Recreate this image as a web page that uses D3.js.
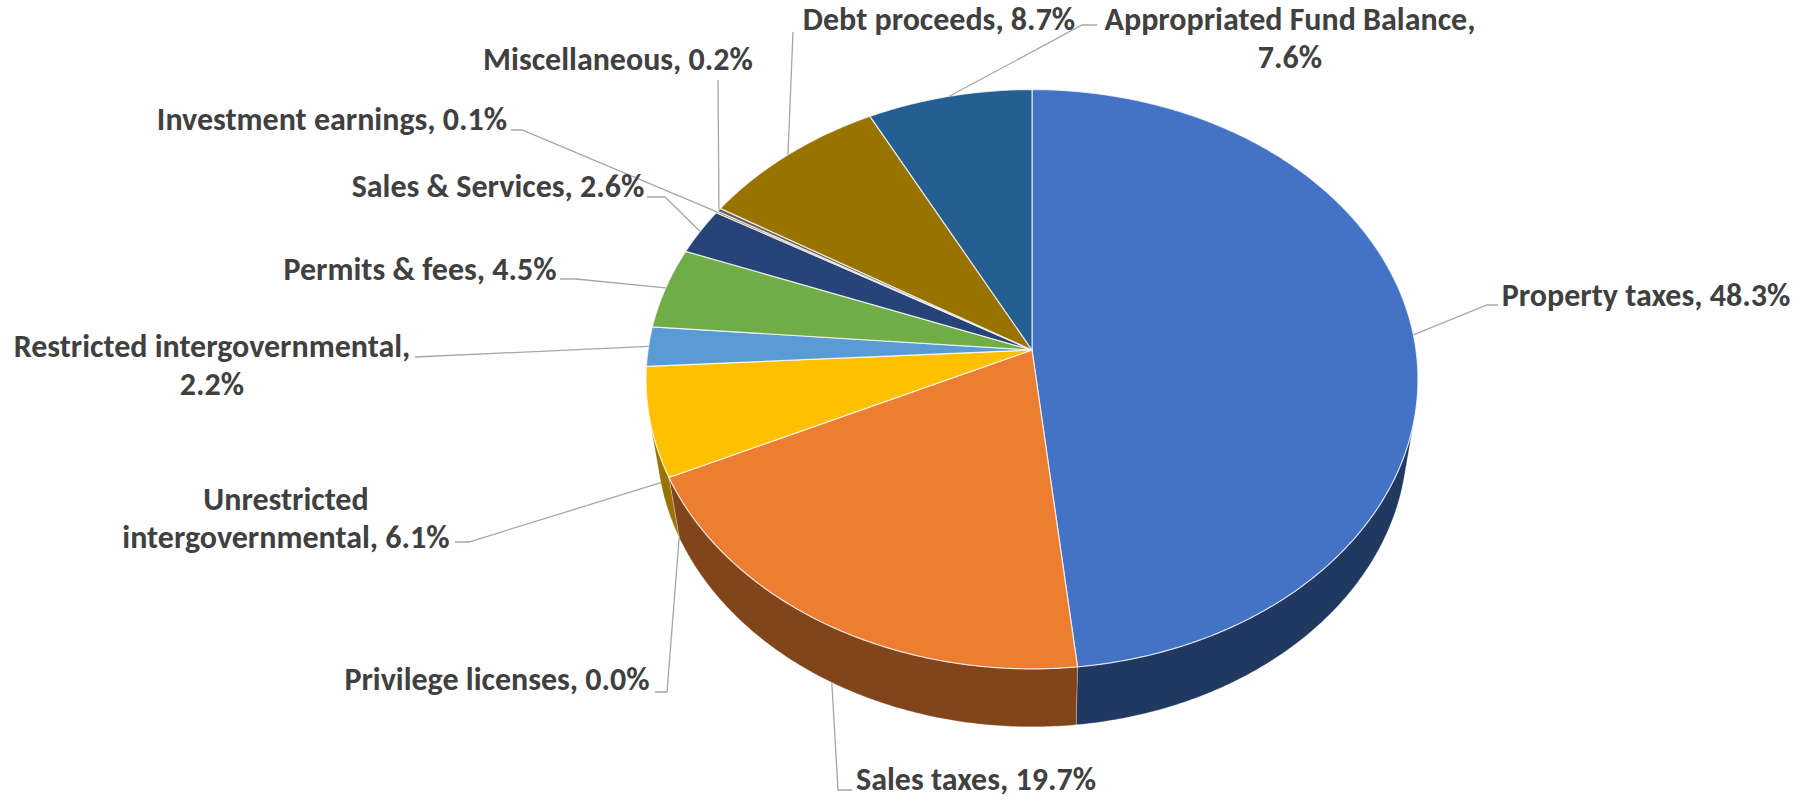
<!DOCTYPE html>
<html>
<head>
<meta charset="utf-8">
<script src="https://cdn.jsdelivr.net/npm/d3@7/dist/d3.min.js"></script>
<style>
  body { margin: 0; background: #fff; }
  svg { display: block; }
</style>
</head>
<body>
<div id="chart"></div>
<script>
// data, clockwise from 12 o'clock
const categories = ["Property taxes", "Sales taxes", "Privilege licenses", "Unrestricted intergovernmental",
  "Restricted intergovernmental", "Permits & fees", "Sales & Services", "Investment earnings",
  "Miscellaneous", "Debt proceeds", "Appropriated Fund Balance"];
const shares = [48.3, 19.7, 0.0, 6.1, 2.2, 4.5, 2.6, 0.1, 0.2, 8.7, 7.6];
const colors = ["#4472C4", "#ED7D31", "#A5A5A5", "#FFC000", "#5B9BD5", "#70AD47",
  "#264478", "#9E480E", "#636363", "#997300", "#255E91"];

// label placement (words on first line, position, leader points from label side)
const labelWrap = [0, 0, 0, 1, 2, 0, 0, 0, 0, 0, 3];
const labelPos = [
  { x: 1646, y: 306, leader: [[1498, 305], [1487, 305]] },
  { x: 976, y: 790, leader: [[852, 790], [838, 790]] },
  { x: 497, y: 690, leader: [[655, 692], [667, 692]] },
  { x: 286, y: 510, leader: [[455, 542], [469, 542]] },
  { x: 212, y: 357, leader: [[415, 357]] },
  { x: 420, y: 280, leader: [[560, 279], [576, 279]] },
  { x: 498, y: 197, leader: [[647, 197], [665, 197]] },
  { x: 332, y: 130, leader: [[511, 130], [522, 130]] },
  { x: 618, y: 70, leader: [[718, 80]] },
  { x: 939, y: 30, leader: [[793, 32]] },
  { x: 1290, y: 30, leader: [[1097, 25], [1082, 25]] }
];

const width = 1798, height = 802;
const svg = d3.select("#chart").append("svg")
  .attr("width", width)
  .attr("height", height);

// 3D view of the disc
const cx = 1032, cy = 350, K = 384;
const dist = 6.6, thick = 0.245, elev = 48.3 * Math.PI / 180;
const sinE = Math.sin(elev), cosE = Math.cos(elev);

function project(theta, drop) {
  const X = Math.sin(theta), Z = Math.cos(theta), Y = -thick * drop;
  const depth = dist - Y * sinE + Z * cosE;
  const up = Y * cosE + Z * sinE;
  return [cx + K * X * dist / depth, cy - K * up * dist / depth];
}

function arcPts(a0, a1, drop) {
  const n = Math.max(2, Math.ceil((a1 - a0) / (Math.PI / 360)));
  return d3.range(n + 1).map(i => project(a0 + (a1 - a0) * i / n, drop));
}

// outer wall faces the camera between these angles
const wallFrom = Math.acos(-1 / (dist * cosE));
const wallTo = 2 * Math.PI - wallFrom;

const pie = d3.pie().sort(null).value(d => d)(shares);
const line = d3.line();

// walls
const walls = svg.append("g");
pie.forEach((p, i) => {
  const s = Math.max(p.startAngle, wallFrom), e = Math.min(p.endAngle, wallTo);
  if (e <= s) return;
  const mid = (s + e) / 2;
  const shade = 2.0 - 0.6 * Math.max(0, -Math.sin(mid));
  const pts = arcPts(s, e, 0).concat(arcPts(s, e, 1).reverse());
  walls.append("path")
    .attr("d", line(pts) + "Z")
    .attr("fill", d3.color(colors[i]).darker(shade))
    .attr("stroke", "rgba(255,255,255,0.35)")
    .attr("stroke-width", 0.8);
});

// top faces
const tops = svg.append("g");
pie.forEach((p, i) => {
  if (p.endAngle - p.startAngle <= 0) return;
  const pts = [[cx, cy]].concat(arcPts(p.startAngle, p.endAngle, 0));
  tops.append("path")
    .attr("d", line(pts) + "Z")
    .attr("fill", colors[i])
    .attr("stroke", "rgba(255,255,255,0.75)")
    .attr("stroke-width", 1.2)
    .attr("stroke-linejoin", "round");
});

// leader lines
const leaders = svg.append("g");
pie.forEach((p, i) => {
  const mid = (p.startAngle + p.endAngle) / 2;
  const onWall = mid > wallFrom && mid < wallTo;
  const anchor = project(mid, onWall ? 1 : 0);
  leaders.append("path")
    .attr("d", line(labelPos[i].leader.concat([anchor])))
    .attr("fill", "none")
    .attr("stroke", "#a6a6a6")
    .attr("stroke-width", 1.3);
});

// labels
const labels = svg.append("g")
  .attr("font-family", "Carlito, Calibri, Lato, sans-serif")
  .attr("font-weight", "bold")
  .attr("font-size", 32)
  .attr("fill", "#404040")
  .attr("text-anchor", "middle");

categories.forEach((name, i) => {
  const words = `${name}, ${shares[i].toFixed(1)}%`.split(" ");
  const rows = labelWrap[i] ? [words.slice(0, labelWrap[i]).join(" "), words.slice(labelWrap[i]).join(" ")]
                            : [words.join(" ")];
  const t = labels.append("text")
    .attr("x", labelPos[i].x)
    .attr("y", labelPos[i].y);
  rows.forEach((r, j) => {
    t.append("tspan")
      .attr("x", labelPos[i].x)
      .attr("dy", j ? 38 : 0)
      .text(r);
  });
});
</script>
</body>
</html>
